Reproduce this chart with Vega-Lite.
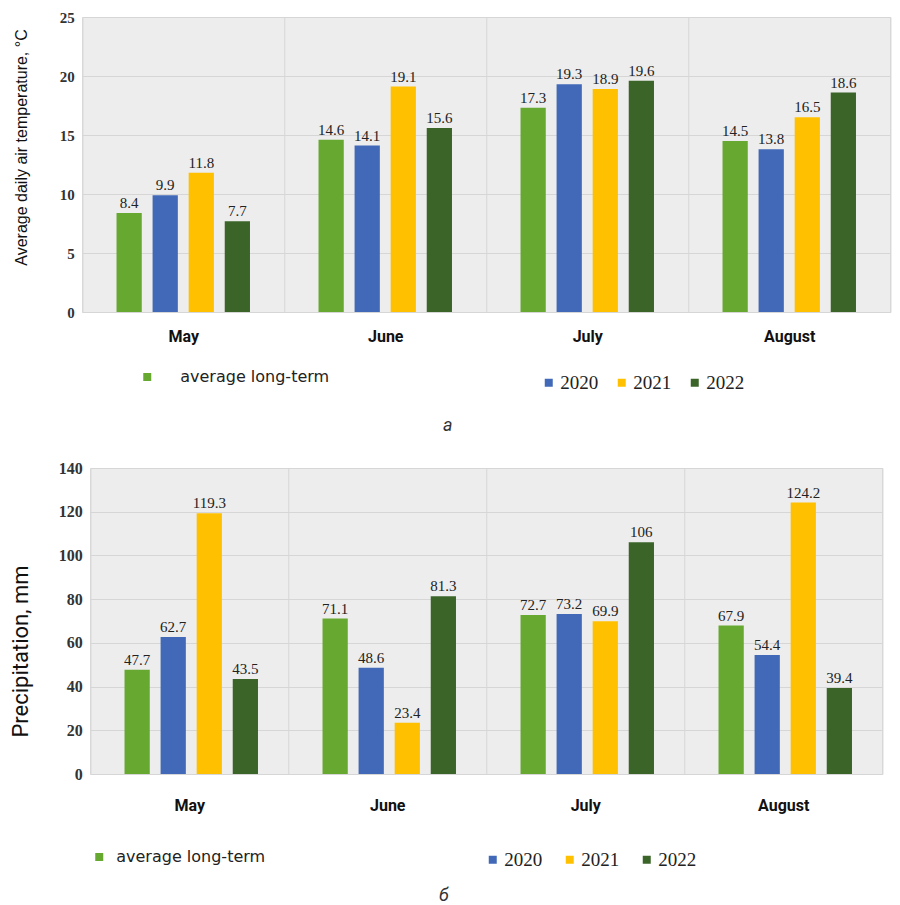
{
  "$schema": "https://vega.github.io/schema/vega-lite/v6.json",
  "description": "Average daily air temperature and precipitation, May-August",
  "padding": {"left": 8, "top": 9, "right": 5, "bottom": 5},
  "center": true,
  "spacing": 24,
  "datasets": {
    "temp": [
      {"month": "May", "series": "average long-term", "value": 8.4},
      {"month": "May", "series": "2020", "value": 9.9},
      {"month": "May", "series": "2021", "value": 11.8},
      {"month": "May", "series": "2022", "value": 7.7},
      {"month": "June", "series": "average long-term", "value": 14.6},
      {"month": "June", "series": "2020", "value": 14.1},
      {"month": "June", "series": "2021", "value": 19.1},
      {"month": "June", "series": "2022", "value": 15.6},
      {"month": "July", "series": "average long-term", "value": 17.3},
      {"month": "July", "series": "2020", "value": 19.3},
      {"month": "July", "series": "2021", "value": 18.9},
      {"month": "July", "series": "2022", "value": 19.6},
      {"month": "August", "series": "average long-term", "value": 14.5},
      {"month": "August", "series": "2020", "value": 13.8},
      {"month": "August", "series": "2021", "value": 16.5},
      {"month": "August", "series": "2022", "value": 18.6}
    ],
    "precip": [
      {"month": "May", "series": "average long-term", "value": 47.7},
      {"month": "May", "series": "2020", "value": 62.7},
      {"month": "May", "series": "2021", "value": 119.3},
      {"month": "May", "series": "2022", "value": 43.5},
      {"month": "June", "series": "average long-term", "value": 71.1},
      {"month": "June", "series": "2020", "value": 48.6},
      {"month": "June", "series": "2021", "value": 23.4},
      {"month": "June", "series": "2022", "value": 81.3},
      {"month": "July", "series": "average long-term", "value": 72.7},
      {"month": "July", "series": "2020", "value": 73.2},
      {"month": "July", "series": "2021", "value": 69.9},
      {"month": "July", "series": "2022", "value": 106},
      {"month": "August", "series": "average long-term", "value": 67.9},
      {"month": "August", "series": "2020", "value": 54.4},
      {"month": "August", "series": "2021", "value": 124.2},
      {"month": "August", "series": "2022", "value": 39.4}
    ]
  },
  "vconcat": [
    {
      "width": 808,
      "height": 295,
      "data": {"name": "temp"},
      "encoding": {
        "x": {
          "field": "month", "type": "nominal", "sort": ["May", "June", "July", "August"],
          "scale": {"paddingInner": 0, "paddingOuter": 0},
          "axis": {
            "title": "а", "titleFont": "Roboto", "titleFontSize": 18, "titleFontStyle": "italic",
            "titleFontWeight": "normal", "titleColor": "#333", "titlePadding": 72, "titleX": 365,
            "labelAngle": 0, "labelFont": "Roboto", "labelFontWeight": "bold", "labelFontSize": 16,
            "labelColor": "#111", "labelPadding": 16, "grid": true, "tickBand": "extent",
            "ticks": false, "domain": false
          }
        },
        "xOffset": {
          "field": "series", "type": "nominal",
          "scale": {"domain": ["average long-term", "2020", "2021", "2022"], "paddingInner": 0.3, "paddingOuter": 0.95}
        },
        "y": {
          "field": "value", "type": "quantitative",
          "scale": {"domain": [0, 25]},
          "axis": {
            "title": "Average daily air temperature, °C", "titleFont": "Liberation Sans", "titleFontSize": 16,
            "titleFontWeight": "normal", "titleColor": "#111", "titlePadding": 30, "titleY": 130,
            "values": [0, 5, 10, 15, 20, 25], "labelFont": "Liberation Serif, serif", "labelFontSize": 15,
            "labelFontWeight": "bold", "labelColor": "#333", "labelPadding": 8
          }
        }
      },
      "layer": [
        {
          "transform": [{"filter": "datum.series === 'average long-term'"}],
          "mark": {"type": "bar"},
          "encoding": {
            "color": {
              "field": "series", "type": "nominal",
              "scale": {"domain": ["average long-term"], "range": ["#67a930"]},
              "legend": {
                "title": null, "orient": "none", "legendX": 57, "legendY": 352,
                "symbolType": "square", "symbolSize": 64, "labelFont": "DejaVu Sans", "labelFontSize": 16,
                "labelColor": "#222", "labelOffset": 25
              }
            }
          }
        },
        {
          "transform": [{"filter": "datum.series !== 'average long-term'"}],
          "mark": {"type": "bar"},
          "encoding": {
            "color": {
              "field": "series", "type": "nominal",
              "scale": {"domain": ["2020", "2021", "2022"], "range": ["#4169b8", "#ffc000", "#3b6428"]},
              "legend": {
                "title": null, "orient": "none", "direction": "horizontal", "legendX": 457, "legendY": 356,
                "symbolType": "square", "symbolSize": 64, "labelFont": "Liberation Serif, serif", "labelFontSize": 19,
                "labelColor": "#222", "labelOffset": 2, "columnPadding": 14
              }
            }
          }
        },
        {
          "mark": {"type": "text", "dy": -10, "font": "Liberation Serif, serif", "fontSize": 15, "color": "#222"},
          "encoding": {"text": {"field": "value", "type": "quantitative"}}
        }
      ],
      "resolve": {"scale": {"color": "independent"}, "legend": {"color": "independent"}}
    },
    {
      "width": 792,
      "height": 306,
      "data": {"name": "precip"},
      "encoding": {
        "x": {
          "field": "month", "type": "nominal", "sort": ["May", "June", "July", "August"],
          "scale": {"paddingInner": 0, "paddingOuter": 0},
          "axis": {
            "title": "б", "titleFont": "Roboto", "titleFontSize": 18, "titleFontStyle": "italic",
            "titleFontWeight": "normal", "titleColor": "#333", "titlePadding": 73, "titleX": 353,
            "labelAngle": 0, "labelFont": "Roboto", "labelFontWeight": "bold", "labelFontSize": 16,
            "labelColor": "#111", "labelPadding": 23, "grid": true, "tickBand": "extent",
            "ticks": false, "domain": false
          }
        },
        "xOffset": {
          "field": "series", "type": "nominal",
          "scale": {"domain": ["average long-term", "2020", "2021", "2022"], "paddingInner": 0.3, "paddingOuter": 0.95}
        },
        "y": {
          "field": "value", "type": "quantitative",
          "scale": {"domain": [0, 140]},
          "axis": {
            "title": "Precipitation, mm", "titleFont": "Roboto", "titleFontSize": 22,
            "titleFontWeight": "normal", "titleColor": "#111", "titlePadding": 26, "titleY": 183,
            "values": [0, 20, 40, 60, 80, 100, 120, 140], "labelFont": "Liberation Serif, serif", "labelFontSize": 16,
            "labelFontWeight": "bold", "labelColor": "#333", "labelPadding": 8
          }
        }
      },
      "layer": [
        {
          "transform": [{"filter": "datum.series === 'average long-term'"}],
          "mark": {"type": "bar"},
          "encoding": {
            "color": {
              "field": "series", "type": "nominal",
              "scale": {"domain": ["average long-term"], "range": ["#67a930"]},
              "legend": {
                "title": null, "orient": "none", "legendX": 1, "legendY": 381,
                "symbolType": "square", "symbolSize": 64, "labelFont": "DejaVu Sans", "labelFontSize": 16,
                "labelColor": "#222", "labelOffset": 9
              }
            }
          }
        },
        {
          "transform": [{"filter": "datum.series !== 'average long-term'"}],
          "mark": {"type": "bar"},
          "encoding": {
            "color": {
              "field": "series", "type": "nominal",
              "scale": {"domain": ["2020", "2021", "2022"], "range": ["#4169b8", "#ffc000", "#3b6428"]},
              "legend": {
                "title": null, "orient": "none", "direction": "horizontal", "legendX": 393, "legendY": 382,
                "symbolType": "square", "symbolSize": 64, "labelFont": "Liberation Serif, serif", "labelFontSize": 19,
                "labelColor": "#222", "labelOffset": 2, "columnPadding": 18
              }
            }
          }
        },
        {
          "mark": {"type": "text", "dy": -10, "font": "Liberation Serif, serif", "fontSize": 15, "color": "#222"},
          "encoding": {"text": {"field": "value", "type": "quantitative"}}
        }
      ],
      "resolve": {"scale": {"color": "independent"}, "legend": {"color": "independent"}}
    }
  ],
  "config": {
    "view": {"stroke": "#d6d6d6", "fill": "#ededed"},
    "axis": {"gridColor": "#d6d6d6", "gridWidth": 1},
    "axisY": {"domain": false, "ticks": false}
  }
}
